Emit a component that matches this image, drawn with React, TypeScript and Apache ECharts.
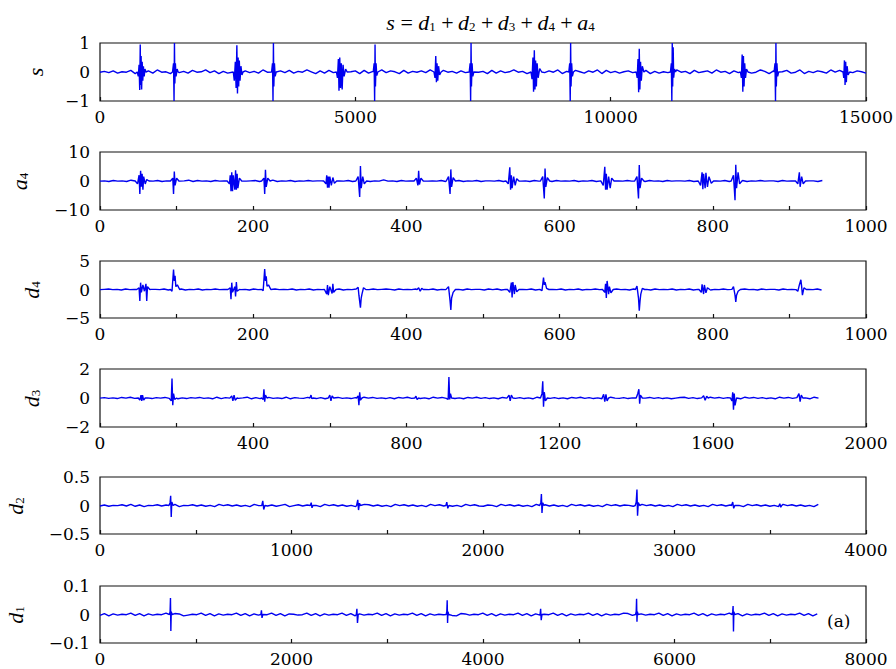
import React, { useEffect, useRef } from "react";
import * as echarts from "echarts";

// ---------- data ----------
const titleParts = ["s", "d1", "d2", "d3", "d4", "a4"];
const panelNames = ["s", "a4", "d4", "d3", "d2", "d1"];

const xTicks = [
  [0, 5000, 10000, 15000],
  [0, 200, 400, 600, 800, 1000],
  [0, 200, 400, 600, 800, 1000],
  [0, 400, 800, 1200, 1600, 2000],
  [0, 1000, 2000, 3000, 4000],
  [0, 2000, 4000, 6000, 8000],
];
const yTicks = [
  [-1, 0, 1],
  [-10, 0, 10],
  [-5, 0, 5],
  [-2, 0, 2],
  [-0.5, 0, 0.5],
  [-0.1, 0, 0.1],
];
// last sample index of each signal
const dataEnd = [15000, 943, 942, 1876, 3751, 7491];

// baseline noise, read as levels 0..9 (4.5 = zero), evenly spread over each signal
const sNoise = "4637254816372945173628459371624857362941573826495172836495718264937518264739518462739546182735946182537491638527491836257394816253794618357294617385249617358249163752948163752";
const a4Noise = "45364537463546354645736453645536445635473546354645536454635463548453645536454635463546355463547453645536454635463546354645536453645546354635463546354645536453645536";
const d4Noise = "45645364536455463546354635464553645364553645463546354654635463546456536454635463546453645536463546354635465463546354645536453645536454635463546354645536453645536454635463";
const d3Noise = "46352748361526473815264735182647358162473528164375261847352618473526174836251847362517483625174836251847362517483625178436251847362514783625184736251847362518473625184";
const d2Noise = "36254738261547362815473625184736251847362581473625184736251487362518473625184736251847326518473625184736251847362518473652184736251847362518473625184736251847362518";
const d1Noise = "27163548271635482761354827163548271635482716534827163548271635482716354827163548217635482716354827163548271635482716354872163548271635482716354827163548271635482716";
// value of one noise level step away from zero
const noiseAmp = [0.07, 0.5, 0.25, 0.07, 0.025, 0.006];

// bursts: [sample index, value] vertices
const sBursts = [
  [[730, 0], [750, -0.15], [765, 0.25], [778, -0.62], [788, 0.95], [796, -0.45], [805, 0.55], [815, -0.6], [826, 0.35], [838, -0.3], [850, 0.2], [865, -0.15], [880, 0.1], [900, 0]],
  [[1420, 0], [1440, 0.3], [1450, -1], [1458, 1], [1466, -0.4], [1476, 0.3], [1490, -0.15], [1510, 0.1], [1530, 0]],
  [[2610, 0], [2630, -0.3], [2650, 0.35], [2665, -0.55], [2680, 0.92], [2692, -0.74], [2705, 0.5], [2716, -0.5], [2728, 0.4], [2742, -0.3], [2760, 0.2], [2780, -0.1], [2800, 0]],
  [[3360, 0], [3378, 0.3], [3388, -1], [3396, 1], [3404, -0.5], [3416, 0.3], [3430, -0.15], [3450, 0]],
  [[4630, 0], [4650, -0.2], [4668, 0.45], [4680, -0.65], [4695, 0.5], [4710, -0.55], [4725, 0.3], [4742, -0.6], [4760, 0.25], [4780, -0.15], [4810, 0.1], [4840, 0]],
  [[5350, 0], [5368, 0.3], [5378, -1], [5386, 0.95], [5394, -0.5], [5406, 0.3], [5420, -0.12], [5440, 0]],
  [[6540, 0], [6560, -0.2], [6575, 0.55], [6588, -0.35], [6600, 0.3], [6614, -0.3], [6630, 0.2], [6650, -0.1], [6680, 0]],
  [[7230, 0], [7248, 0.3], [7258, -1], [7266, 1], [7274, -0.5], [7286, 0.3], [7300, -0.15], [7320, 0]],
  [[8440, 0], [8460, -0.25], [8478, 0.5], [8490, -0.68], [8505, 0.75], [8518, -0.6], [8530, 0.4], [8545, -0.5], [8560, 0.3], [8580, -0.2], [8610, 0.12], [8650, 0]],
  [[9180, 0], [9198, 0.3], [9208, -1], [9216, 1], [9224, -0.5], [9236, 0.3], [9250, -0.15], [9270, 0]],
  [[10500, 0], [10520, -0.2], [10535, 0.45], [10548, -0.7], [10560, 0.8], [10572, -0.6], [10585, 0.35], [10600, -0.3], [10620, 0.2], [10650, 0]],
  [[11170, 0], [11188, 0.3], [11198, -1], [11206, 1], [11214, -0.5], [11224, 0.85], [11234, -0.2], [11250, 0.1], [11270, 0]],
  [[12540, 0], [12560, -0.2], [12575, 0.6], [12588, -0.68], [12600, 0.55], [12612, -0.5], [12625, 0.3], [12640, -0.2], [12660, 0.1], [12690, 0]],
  [[13200, 0], [13218, 0.3], [13228, -1], [13236, 1], [13244, -0.5], [13256, 0.3], [13270, -0.15], [13290, 0]],
  [[14550, 0], [14565, -0.2], [14578, 0.4], [14590, -0.45], [14602, 0.35], [14615, -0.35], [14630, 0.2], [14650, -0.1], [14680, 0]],
];
const a4Bursts = [
  [[46, 0], [49, -1], [51, 2], [52, -4.5], [53, 3.5], [54, -2], [55, 2.5], [56, -3], [57, 1.5], [59, -1], [61, 0.5], [64, 0]],
  [[92, 0], [95, 1], [96, -4.5], [97, 3.3], [98, -1.5], [100, 1], [103, 0]],
  [[166, 0], [169, -1], [170, 2], [171, -3.5], [172, 3], [173, -3.5], [174, 2], [176, -3], [177, 3.7], [178, -3], [179, 2.5], [180, -2.5], [182, 1], [185, 0]],
  [[211, 0], [214, 1], [215, -4.5], [216, 3.9], [217, -2], [219, 1], [222, 0]],
  [[292, 0], [295, -1], [296, 2], [297, -2.3], [298, 1.5], [299, -2.3], [300, 1.5], [302, -1.5], [304, 1.2], [306, -0.8], [309, 0]],
  [[334, 0], [337, 1.5], [339, -5.5], [340, 5.2], [341, -2.5], [343, 1.5], [345, -1], [348, 0]],
  [[410, 0], [413, 1], [415, -1.5], [416, 3.5], [417, -1.2], [419, 1], [422, 0]],
  [[452, 0], [455, 1.5], [457, -4.5], [458, 4], [459, -2], [461, 1.2], [464, 0]],
  [[530, 0], [533, -1], [535, 4.7], [536, -3], [537, 2], [538, -2.5], [540, 1.5], [542, -1.5], [544, 0.8], [547, 0]],
  [[575, 0], [578, 1.5], [580, -6], [581, 4.3], [582, -2], [584, 1.2], [587, 0]],
  [[654, 0], [657, -1.5], [659, 4.9], [660, -3], [661, 2.5], [662, -3], [664, 1.5], [666, -2.5], [668, 1], [671, 0]],
  [[698, 0], [701, 1.5], [703, -6], [704, 5.5], [705, -2.5], [707, 1], [710, 0]],
  [[781, 0], [784, -1.5], [786, 3], [787, -2.8], [788, 2.5], [790, -2.5], [791, 2.8], [793, -2], [795, 1.5], [798, -0.8], [801, 0]],
  [[824, 0], [827, 2], [829, -6.6], [830, 5.6], [831, -2.5], [833, 3], [835, -1], [838, 0]],
  [[908, 0], [911, -1], [913, 3], [914, -2], [916, 1.5], [918, -1], [921, 0]],
];
const d4Bursts = [
  [[48, 0], [51, 0.3], [52, -2], [53, 1.2], [54, -0.5], [56, 0.8], [58, -0.3], [60, 1], [61, -2], [62, 0.5], [65, 0]],
  [[92, 0], [94, -0.3], [96, 3.5], [97, 1.5], [98, 2.4], [99, 0.5], [101, 0.8], [104, 0]],
  [[167, 0], [170, 0.3], [171, -1.7], [172, 1.2], [173, -0.5], [176, 0.5], [177, -1.2], [178, 1.3], [179, -0.3], [182, 0]],
  [[211, 0], [213, -0.2], [215, 3.6], [216, 1.5], [217, 2.3], [218, 0.6], [220, 0.8], [223, 0]],
  [[293, 0], [296, -0.8], [297, 0.8], [298, -1], [300, 0.5], [303, -0.7], [304, 1], [305, -0.5], [308, 0]],
  [[335, 0], [337, 0.4], [338, -1], [340, -3.2], [341, -1.5], [342, -0.8], [344, 0.3], [347, 0]],
  [[414, 0], [416, 0.3], [418, -0.3], [420, 0.2], [422, 0]],
  [[452, 0], [455, 0.5], [457, -2], [458, -3.6], [459, -1.5], [461, -0.5], [464, 0]],
  [[532, 0], [535, -0.5], [537, 1.2], [538, -1.4], [539, 1.3], [541, -0.8], [542, 0.8], [544, -0.4], [547, 0]],
  [[575, 0], [577, -0.2], [579, 2.1], [580, 0.8], [581, 1.3], [583, 0.2], [586, 0]],
  [[656, 0], [659, -0.5], [660, 1], [661, -1.5], [662, 1.5], [664, -0.8], [665, 0.5], [667, -0.6], [670, 0]],
  [[699, 0], [701, 0.6], [703, -1.5], [704, -3.7], [705, -2], [706, -0.8], [708, 0.2], [711, 0]],
  [[782, 0], [785, -0.5], [786, 0.9], [788, -0.8], [789, 0.8], [791, -0.6], [793, 0.3], [796, 0]],
  [[825, 0], [827, 0.5], [829, -1], [830, -2.2], [831, -1], [833, -0.3], [836, 0]],
  [[909, 0], [911, -0.3], [913, 0.8], [915, 1.7], [916, 0.5], [917, -1], [919, 0.3], [922, 0]],
];
const d3Bursts = [
  [[100, 0], [104, -0.15], [107, 0.2], [109, -0.2], [111, 0.2], [114, -0.15], [118, 0]],
  [[182, 0], [186, -0.2], [188, 1.35], [190, -0.5], [192, 0.3], [195, -0.1], [200, 0]],
  [[340, 0], [344, 0.15], [347, -0.2], [350, 0.2], [353, -0.15], [358, 0]],
  [[422, 0], [426, -0.1], [428, 0.6], [430, -0.25], [432, 0.2], [436, 0]],
  [[548, 0], [551, 0.2], [553, -0.05], [556, 0]],
  [[596, 0], [600, 0.2], [603, -0.2], [606, 0.15], [610, 0]],
  [[670, 0], [674, 0.15], [676, -0.5], [678, 0.4], [680, -0.15], [684, 0]],
  [[822, 0], [825, 0.12], [828, -0.1], [832, 0]],
  [[905, 0], [909, -0.1], [911, 1.45], [913, -0.1], [915, 0.3], [918, 0]],
  [[1064, 0], [1068, 0.2], [1071, -0.2], [1074, 0.2], [1078, 0]],
  [[1150, 0], [1154, 0.3], [1156, 1.15], [1158, -0.6], [1160, 0.4], [1163, -0.2], [1168, 0]],
  [[1311, 0], [1315, 0.25], [1318, -0.25], [1321, 0.25], [1324, -0.2], [1328, 0]],
  [[1400, 0], [1404, 0.3], [1407, 0.6], [1409, -0.4], [1411, 0.2], [1416, 0]],
  [[1572, 0], [1576, 0.15], [1580, -0.15], [1584, 0.12], [1588, 0]],
  [[1646, 0], [1650, -0.2], [1652, 0.4], [1654, -0.8], [1656, 0.3], [1658, -0.5], [1662, 0]],
  [[1821, 0], [1825, 0.3], [1828, -0.25], [1831, 0.2], [1835, 0]],
];
const d2Bursts = [
  [[360, 0], [366, 0.05], [369, 0.17], [372, -0.2], [375, 0.06], [382, 0]],
  [[845, 0], [850, 0.08], [855, -0.07], [861, 0]],
  [[1098, 0], [1103, 0.05], [1107, -0.04], [1112, 0]],
  [[1340, 0], [1346, 0.1], [1350, -0.08], [1355, 0.04], [1360, 0]],
  [[1806, 0], [1811, 0.06], [1816, -0.05], [1822, 0]],
  [[2296, 0], [2302, 0.05], [2305, 0.2], [2308, -0.13], [2312, 0.05], [2318, 0]],
  [[2795, 0], [2800, 0.06], [2804, 0.28], [2807, -0.18], [2811, 0.05], [2818, 0]],
  [[3298, 0], [3304, 0.06], [3309, -0.05], [3315, 0]],
  [[3546, 0], [3550, 0.03], [3555, -0.03], [3560, 0]],
];
const d1Bursts = [
  [[725, 0], [732, 0.01], [736, 0.058], [740, -0.058], [744, 0.01], [752, 0]],
  [[1680, 0], [1686, 0.015], [1692, -0.012], [1700, 0]],
  [[2677, 0], [2683, 0.02], [2689, -0.03], [2697, 0]],
  [[3615, 0], [3622, 0.01], [3626, 0.05], [3630, -0.03], [3634, 0.01], [3642, 0]],
  [[4596, 0], [4602, 0.02], [4608, -0.02], [4616, 0]],
  [[5593, 0], [5600, 0.01], [5604, 0.055], [5608, -0.025], [5612, 0.01], [5620, 0]],
  [[6602, 0], [6608, 0.01], [6612, 0.03], [6616, -0.06], [6620, 0.01], [6628, 0]],
];

const noises = [sNoise, a4Noise, d4Noise, d3Noise, d2Noise, d1Noise];
const bursts = [sBursts, a4Bursts, d4Bursts, d3Bursts, d2Bursts, d1Bursts];

// ---------- layout ----------
const FONT = "Liberation Serif";
const TICKFONT = "DejaVu Serif";
const BLUE = "#0000f0";
const gridTops = [43, 152, 261, 369, 477, 586];
const gridHeights = [58, 58, 57, 58, 57, 57];
const nameGaps = [54, 70, 58, 58, 74, 74];

const rich = {
  i: { fontFamily: FONT, fontStyle: "italic", fontWeight: "normal", fontSize: 22, lineHeight: 22, verticalAlign: "top", color: "#000" },
  n: { fontFamily: FONT, fontStyle: "normal", fontWeight: "normal", fontSize: 22, lineHeight: 22, verticalAlign: "top", color: "#000" },
  sb: { fontFamily: FONT, fontStyle: "normal", fontWeight: "normal", fontSize: 13, lineHeight: 13, padding: [12, 1, 0, 0], verticalAlign: "bottom", color: "#000" },
};

function label(name: string) {
  const letter = name[0];
  const sub = name.slice(1);
  return sub ? `{i|${letter}}{sb|${sub}}` : `{i|${letter}}`;
}

function fmt(v: number) {
  const s = String(Math.round(v * 1000) / 1000);
  return s.replace("-", "\u2212");
}

function buildSeriesData(k: number) {
  const end = dataEnd[k];
  const levels = noises[k].split("").map((c) => ((Number(c) - 4.5) / 4.5) * noiseAmp[k]);
  const n = levels.length;
  const base = levels.map((v, i) => [(i * end) / (n - 1), v]);
  const bs = bursts[k];
  const inside = (x: number) => bs.some((b) => x >= b[0][0] && x <= b[b.length - 1][0]);
  const all: number[][] = base.filter((p) => !inside(p[0]));
  bs.forEach((b) => b.forEach((p) => all.push(p)));
  all.sort((a, b) => a[0] - b[0]);
  return all;
}

export default function App() {
  const ref = useRef<HTMLDivElement>(null);
  useEffect(() => {
    if (!ref.current) return;
    const chart = echarts.init(ref.current, undefined, { renderer: "svg" });
    const grids: any[] = [];
    const xAxes: any[] = [];
    const yAxes: any[] = [];
    const series: any[] = [];
    for (let k = 0; k < 6; k++) {
      grids.push({
        left: 100, right: 30, top: gridTops[k], height: gridHeights[k],
        containLabel: false, outerBoundsMode: "none",
        show: true, borderColor: "#111", borderWidth: 1.2, backgroundColor: "transparent",
      });
      const xt = xTicks[k];
      const yt = yTicks[k];
      xAxes.push({
        type: "value", gridIndex: k, min: xt[0], max: xt[xt.length - 1], interval: xt[1] - xt[0],
        axisLine: { show: false, onZero: false },
        axisTick: { show: true, inside: true, length: 4, lineStyle: { color: "#111", width: 1.2 } },
        minorTick: { show: k > 0, splitNumber: 2, length: 4, lineStyle: { color: "#111", width: 1.2 } },
        splitLine: { show: false },
        axisLabel: { fontFamily: TICKFONT, fontSize: 17, color: "#000", margin: 7, formatter: (v: number) => fmt(v) },
      });
      yAxes.push({
        type: "value", gridIndex: k, min: yt[0], max: yt[yt.length - 1], interval: yt[1] - yt[0],
        axisLine: { show: false, onZero: false }, axisTick: { show: false }, splitLine: { show: false },
        axisLabel: { fontFamily: TICKFONT, fontSize: 17, color: "#000", margin: 10, formatter: (v: number) => fmt(v) },
        name: label(panelNames[k]), nameLocation: "middle", nameRotate: 90, nameGap: nameGaps[k],
        nameTextStyle: { rich },
      });
      series.push({
        type: "line", xAxisIndex: k, yAxisIndex: k, data: buildSeriesData(k), showSymbol: false, silent: true,
        lineStyle: { color: BLUE, width: 1.4 }, itemStyle: { color: BLUE },
      });
    }
    const titleText =
      `{i|${titleParts[0]}}{n| = }` +
      titleParts.slice(1).map((p) => label(p)).join("{n|\u2009+\u2009}");
    chart.setOption({
      animation: false,
      backgroundColor: "#fff",
      title: { text: titleText, left: 486, top: 6, textAlign: "center", textStyle: { fontWeight: "normal", rich } },
      grid: grids,
      xAxis: xAxes,
      yAxis: yAxes,
      series,
      graphic: [
        { type: "text", left: 827, top: 612, style: { text: "(a)", fontFamily: TICKFONT, fontSize: 17, fill: "#000" } },
      ],
    });
    return () => chart.dispose();
  }, []);
  return <div ref={ref} style={{ width: 896, height: 669, position: "absolute", left: 0, top: 0 }} />;
}
